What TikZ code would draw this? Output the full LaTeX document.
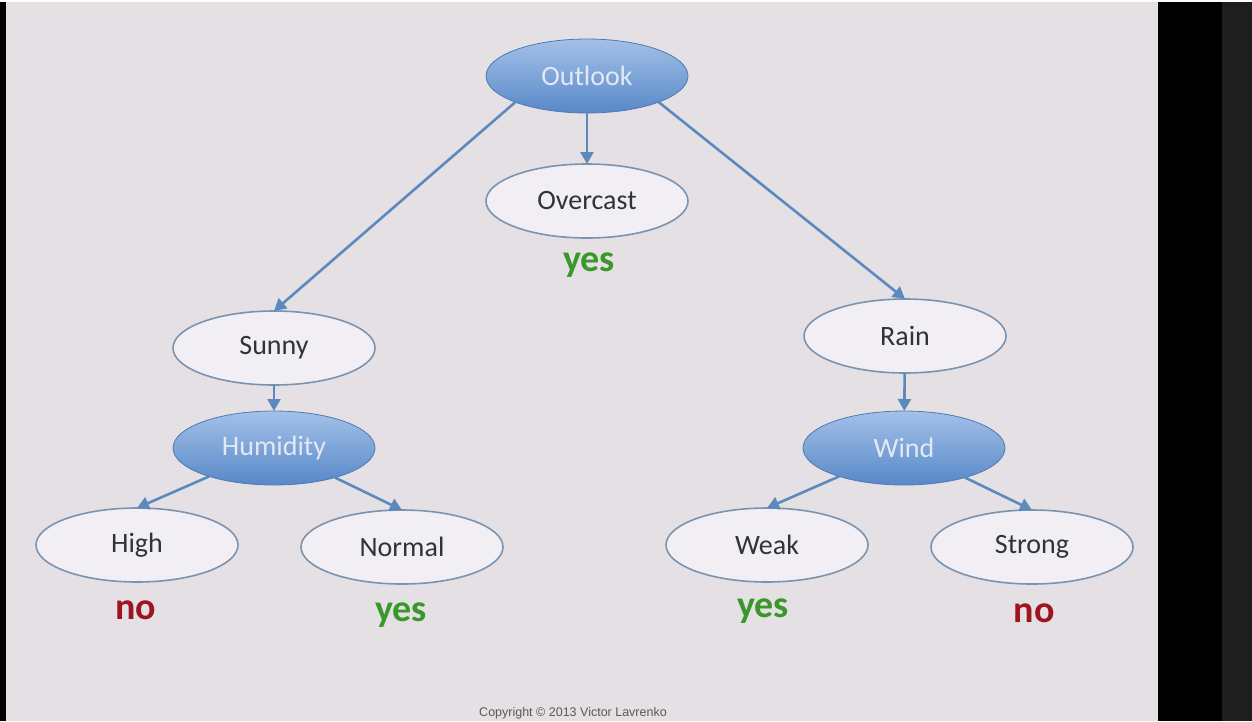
\documentclass[tikz,border=0pt]{standalone}
\usepackage{fontspec}
\setmainfont{Carlito}
\newfontfamily\copyfont{Liberation Sans}
\usetikzlibrary{shapes.geometric,arrows.meta}
\definecolor{slidebg}{RGB}{228,224,228}
\definecolor{leaffill}{RGB}{241,239,243}
\definecolor{leafedge}{RGB}{122,148,176}
\definecolor{bluetop}{RGB}{163,193,232}
\definecolor{bluebot}{RGB}{88,136,200}
\definecolor{bluetext}{RGB}{226,233,244}
\definecolor{arrowcol}{RGB}{92,138,190}
\definecolor{yesgreen}{RGB}{58,152,42}
\definecolor{nored}{RGB}{158,20,32}
\definecolor{darkstrip}{RGB}{30,30,30}
\tikzset{
  oval/.style={ellipse, minimum width=202pt, minimum height=74pt, inner sep=0pt, outer sep=0pt},
  leafnode/.style={oval, draw=leafedge, line width=1.6pt, fill=leaffill, text=black!80, font=\fontsize{28}{32}\selectfont},
  attrnode/.style={oval, top color=bluetop, bottom color=bluebot, draw=bluebot!90!black, line width=0.8pt, text=bluetext, font=\fontsize{28}{32}\selectfont},
  conn/.style={draw=arrowcol, line width=2.6pt, -{Triangle[length=12pt,width=13pt]}},
  yeslabel/.style={text=yesgreen, font=\fontsize{38}{42}\selectfont\bfseries},
  nolabel/.style={text=nored, font=\fontsize{38}{42}\selectfont\bfseries}
}
\begin{document}
\begin{tikzpicture}[x=1pt,y=-1pt]
\useasboundingbox (0,0) rectangle (1252,721);
\fill[slidebg] (0,0) rectangle (1158,721);
\fill[black] (0,0) rectangle (6,721);
\fill[black] (1158,0) rectangle (1222,721);
\fill[darkstrip] (1222,0) rectangle (1252,721);
\fill[white!92!slidebg] (0,0) rectangle (1252,1.5);

\node[attrnode] (outlook) at (587,76) {\raisebox{-2pt}{Outlook}};
\node[leafnode] (overcast) at (587,201) {\raisebox{-2pt}{Overcast}};
\node[yeslabel] (yes1) at (589,265) {yes};
\node[leafnode] (sunny) at (274,348) {\raisebox{-2pt}{Sunny}};
\node[leafnode] (rain) at (905,336) {\raisebox{-2pt}{Rain}};
\node[attrnode] (humidity) at (274,448) {\raisebox{-2pt}{Humidity}};
\node[attrnode] (wind) at (904,448) {\raisebox{-2pt}{Wind}};
\node[leafnode] (high) at (137,545) {\raisebox{-2pt}{High}};
\node[leafnode] (normal) at (402,547) {\raisebox{-2pt}{Normal}};
\node[leafnode] (weak) at (767,545) {\raisebox{-2pt}{Weak}};
\node[leafnode] (strong) at (1032,547) {\raisebox{-2pt}{Strong}};
\node[nolabel] (no1) at (136,610) {no};
\node[yeslabel] (yes2) at (401,615) {yes};
\node[yeslabel] (yes3) at (763,611) {yes};
\node[nolabel] (no2) at (1034,613) {no};
\node[text=black!65, font=\copyfont\fontsize{12.5}{14}\selectfont] (copy) at (573,713) {Copyright \textcopyright\ 2013 Victor Lavrenko};

\draw[conn] (outlook.200) -- (sunny.north);
\draw[conn] (outlook) -- (overcast);
\draw[conn] (outlook.-20) -- (rain.north);
\draw[conn] (sunny) -- (humidity);
\draw[conn] (rain) -- (wind);
\draw[conn] (humidity) -- (high.north);
\draw[conn] (humidity) -- (normal.north);
\draw[conn] (wind) -- (weak.north);
\draw[conn] (wind) -- (strong.north);
\end{tikzpicture}
\end{document}
